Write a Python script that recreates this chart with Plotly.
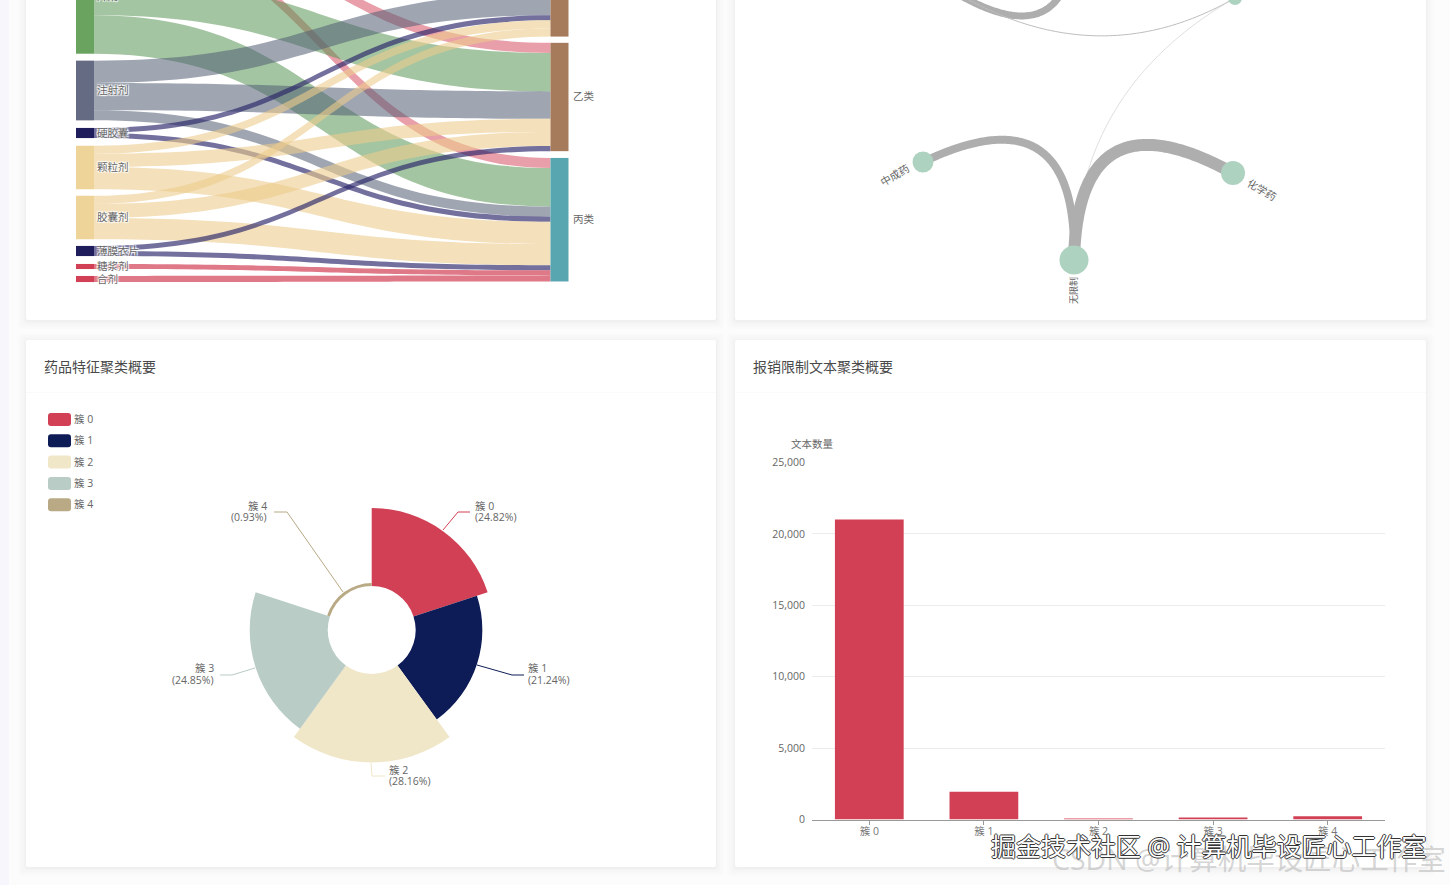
import numpy as np
import plotly.graph_objects as go

S = 200           # the page is scrolled: the figure starts this far above the window
W, H = 1450, 885 + S
FONT = "Open Sans, Noto Sans CJK SC, sans-serif"

# ---------- Sankey data ----------
sankey_left = ["", "片剂", "注射剂", "硬胶囊", "颗粒剂", "胶囊剂", "薄膜衣片", "糖浆剂", "合剂"]
sankey_right = ["甲类", "乙类", "丙类"]
sankey_source = [0, 0, 0, 1, 1, 1, 2, 2, 2, 3, 3, 4, 4, 4, 5, 5, 5, 6, 6, 7, 8]
sankey_target = [0, 1, 2, 0, 1, 2, 0, 1, 2, 0, 2, 0, 1, 2, 0, 1, 2, 1, 2, 2, 2]
sankey_value = [10, 10, 10, 38, 38, 38, 22, 27, 10, 5, 5, 8, 13, 22, 8, 14, 21, 5, 5, 5, 6]
left_top = [-98, -61, 61, 128, 146, 196, 246, 264, 276]
right_top = [-55, 43.5, 158.7]
left_colors = ["#d14054", "#6aa35f", "#666b84", "#1f1d5c", "#efd49a", "#efd49a", "#1f1d5c", "#d14054", "#d14054"]
right_colors = ["#a67b5b", "#a67b5b", "#58a6b0"]
link_by_source = ["rgba(209,64,84,.5)", "rgba(90,150,85,.55)", "rgba(80,92,115,.55)", "rgba(40,36,105,.65)",
                  "rgba(236,204,140,.6)", "rgba(236,204,140,.6)", "rgba(40,36,105,.65)", "rgba(209,64,84,.7)", "rgba(209,64,84,.7)"]

# ---------- Network data ----------
net_names = ["", "", "", "中成药", "化学药", "无限制"]
net_x = [1235, 913, 1075, 923, 1233, 1074]
net_y = [-2, -36, -84, 162, 173, 260]
net_size = [14, 16, 16, 21, 24, 29]
net_edges = [(1, 2, 7), (1, 0, 1), (0, 5, 0.7), (3, 5, 8), (4, 5, 12)]
net_edge_colors = ["#aeaeae", "#bdbdbd", "#d0d0d0", "#aeaeae", "#aeaeae"]
net_centre = (1078, 88)

# ---------- Rose data ----------
clusters = ["簇 0", "簇 1", "簇 2", "簇 3", "簇 4"]
rose_share = [24.82, 21.24, 28.16, 24.85, 0.93]
rose_theta = [36, 108, 180, 252, 324]
rose_colors = ["#d14054", "#0d1c56", "#f0e6c8", "#b9ccc5", "#b9a985"]
rose_hole = 14.0
rose_max = 47.77

# ---------- Bar data ----------
bar_values = [21000, 1950, 70, 100, 220]
bar_ticks = [0, 5000, 10000, 15000, 20000, 25000]

fx = lambda x: x / W
fy = lambda y: 1 - (y + S) / H

shapes, ann = [], []

def rect(x0, y0, x1, y1, color, r=0):
    if r:
        p = (f"M{x0+r},{y0} L{x1-r},{y0} Q{x1},{y0} {x1},{y0+r} L{x1},{y1-r} Q{x1},{y1} {x1-r},{y1} "
             f"L{x0+r},{y1} Q{x0},{y1} {x0},{y1-r} L{x0},{y0+r} Q{x0},{y0} {x0+r},{y0} Z")
        shapes.append(dict(type="path", path=p, xref="x", yref="y", fillcolor=color, line_width=0, layer="below"))
    else:
        shapes.append(dict(type="rect", x0=x0, y0=y0, x1=x1, y1=y1, xref="x", yref="y",
                           fillcolor=color, line_width=0, layer="below"))

def text(x, y, s, size=11, color="#666", xa="left", ya="middle", angle=0, **kw):
    ann.append(dict(x=x, y=y, xref="x", yref="y", text=s, showarrow=False, xanchor=xa, yanchor=ya,
                    textangle=angle, font=dict(size=size, color=color, family=FONT, **kw), align="left"))

# page and cards
rect(0, -S, W, 885, "#f6f6fc")
rect(9, -S, W, 885, "#fcfcfc")
for (x0, y0, x1, y1) in [(26, -S, 716, 320), (735, -S, 1426, 320), (26, 340, 716, 867), (735, 340, 1426, 867)]:
    for g, a in [(8, .006), (6, .007), (4, .008), (2, .01), (1, .01)]:
        rect(x0 - g, y0 - g + 1, x1 + g, y1 + g + 1, f"rgba(0,0,0,{a})", 3)
    rect(x0, y0, x1, y1, "#ffffff", 2)
rect(26, 392, 716, 393, "#fafafa")
rect(735, 392, 1426, 393, "#fafafa")
text(42, 366, "药品特征聚类概要", 14, "#4a4a4a")
text(751, 366, "报销限制文本聚类概要", 14, "#4a4a4a")

fig = go.Figure()

# page-sized hidden axes used for the network and the leader lines
fig.update_layout(
    xaxis=dict(domain=[0, 1], range=[0, W], visible=False, fixedrange=True),
    yaxis=dict(domain=[0, 1], range=[885, -S], visible=False, fixedrange=True),
)

# ---------- Sankey ----------
SK_X0, SK_X1 = 60, 600
SK_T, SK_B = -98, 282
sw = SK_X1 - SK_X0
sh = SK_B - SK_T
labels = sankey_left + [""] * len(sankey_right)
sums = [0.0] * (len(sankey_left) + len(sankey_right))
for s_, t_, v_ in zip(sankey_source, sankey_target, sankey_value):
    sums[s_] += v_
    sums[t_ + len(sankey_left)] += v_
tops = left_top + right_top
node_x = [(85 - SK_X0) / sw] * len(sankey_left) + [(559.5 - SK_X0) / sw] * len(sankey_right)
node_y = [(t + sums[i] / 2 - SK_T) / sh for i, t in enumerate(tops)]
fig.add_trace(go.Sankey(
    domain=dict(x=[fx(SK_X0), fx(SK_X1)], y=[fy(SK_B), fy(SK_T)]),
    arrangement="fixed",
    node=dict(label=labels, x=node_x, y=node_y, pad=7, thickness=18, line=dict(width=0),
              color=left_colors + right_colors, hoverinfo="skip"),
    link=dict(source=sankey_source, target=[t + len(sankey_left) for t in sankey_target],
              value=sankey_value, color=[link_by_source[s_] for s_ in sankey_source], hoverinfo="skip"),
    textfont=dict(size=10.5, color="#666", family=FONT),
))
for name, t, i in zip(sankey_right, right_top, range(len(sankey_right))):
    text(571, t + sums[len(sankey_left) + i] / 2 - 1, name, 10.5)

# ---------- Network ----------
for (a, b, w_), col in zip(net_edges, net_edge_colors):
    p0, p1 = np.array([net_x[a], net_y[a]], float), np.array([net_x[b], net_y[b]], float)
    c = np.array(net_centre, float)
    t = np.linspace(0, 1, 120)[:, None]
    pts = (1 - t) ** 2 * p0 + 2 * t * (1 - t) * c + t ** 2 * p1
    fig.add_trace(go.Scatter(x=pts[:, 0], y=pts[:, 1], mode="lines",
                             line=dict(color=col, width=w_, simplify=False),
                             hoverinfo="skip", showlegend=False))
fig.add_trace(go.Scatter(x=net_x, y=net_y, mode="markers", hoverinfo="skip", showlegend=False,
                         marker=dict(size=net_size, color="#aed2c0", opacity=1, line_width=0)))
text(895, 175, net_names[3], 10.5, "#666", "center", angle=-30)
text(1262, 190, net_names[4], 10.5, "#666", "center", angle=30)
text(1073, 291, net_names[5], 9, "#666", "center", angle=-90)

# ---------- Rose ----------
R_PX = 150
RX = 371.7
fig.add_trace(go.Barpolar(r=rose_share, theta=rose_theta, width=[72] * 5, base=[rose_hole] * 5,
                          marker=dict(color=rose_colors, line_width=0), hoverinfo="skip", showlegend=False,
                          subplot="polar"))
fig.update_layout(polar=dict(
    domain=dict(x=[fx(RX - R_PX), fx(RX + R_PX)], y=[fy(630 + R_PX), fy(630 - R_PX)]),
    bgcolor="rgba(0,0,0,0)",
    angularaxis=dict(visible=False, direction="clockwise", rotation=90),
    radialaxis=dict(visible=False, range=[0, rose_max]),
))
leaders = [[(443, 530), (458, 512), (470, 512)], [(477, 665), (512, 675), (524, 675)],
           [(371, 763), (372, 776), (385, 776)], [(255, 668), (232, 675), (220, 675)],
           [(343, 592), (287, 512), (274, 512)]]
label_pos = [(473, 511.5), (526, 674), (387, 775.5), (216, 674), (269, 511.5)]
label_side = ["left", "left", "left", "right", "right"]
for i, c in enumerate(clusters):
    xs, ys = zip(*leaders[i])
    fig.add_trace(go.Scatter(x=xs, y=ys, mode="lines", line=dict(color=rose_colors[i], width=1),
                             hoverinfo="skip", showlegend=False))
    lx, ly = label_pos[i]
    text(lx, ly - 6, c, 10.5, "#666", label_side[i])
    text(lx, ly + 5.5, f"({rose_share[i]:.2f}%)", 10.5, "#666", label_side[i])
    rect(48, 413 + i * 21.3, 71, 426 + i * 21.3, rose_colors[i], 3)
    text(72, 419 + i * 21.3, c, 10.5)

# ---------- Bars ----------
fig.add_trace(go.Bar(x=clusters, y=bar_values, xaxis="x2", yaxis="y2", width=0.6,
                     marker=dict(color="#d14054", line_width=0), hoverinfo="skip", showlegend=False))
fig.update_layout(
    xaxis2=dict(domain=[fx(812), fx(1385)], anchor="y2", type="category", tickfont=dict(size=10.5, color="#777", family=FONT),
                showline=True, linecolor="#999", ticks="outside", ticklen=4, tickcolor="#999", showgrid=False,
                ticklabelstandoff=-2, fixedrange=True),
    yaxis2=dict(domain=[fy(819.5), fy(462.5)], anchor="x2", range=[0, 25000], tickvals=bar_ticks, tickformat=",",
                tickfont=dict(size=10.5, color="#666", family=FONT), gridcolor="#ececec", showline=False,
                zeroline=False, ticks="", ticklabelstandoff=6, fixedrange=True),
)
text(812, 443.5, "文本数量", 10.5, "#666", "center")

# ---------- Watermarks ----------
text(1050, 859, "CSDN @计算机毕设匠心工作室", 28.5, "rgba(190,190,190,.65)")
text(989, 846, "掘金技术社区 @ 计算机毕设匠心工作室", 25, "#ffffff", shadow="-1px 0 #333, 1px 0 #333, 0 1px #333, 0 -1px #333")

fig.update_layout(width=W, height=H, margin=dict(l=0, r=0, t=0, b=0, autoexpand=False), paper_bgcolor="#ffffff",
                  plot_bgcolor="rgba(0,0,0,0)", shapes=shapes, annotations=ann, showlegend=False,
                  font=dict(family=FONT), hovermode=False)

post = f"""
document.documentElement.style.overflow='hidden';
document.body.style.margin='0';
document.body.style.overflow='hidden';
document.getElementById('{{plot_id}}').style.marginTop='-{S}px';
"""
fig.write_html("out.html", post_script=post, config=dict(displayModeBar=False))
